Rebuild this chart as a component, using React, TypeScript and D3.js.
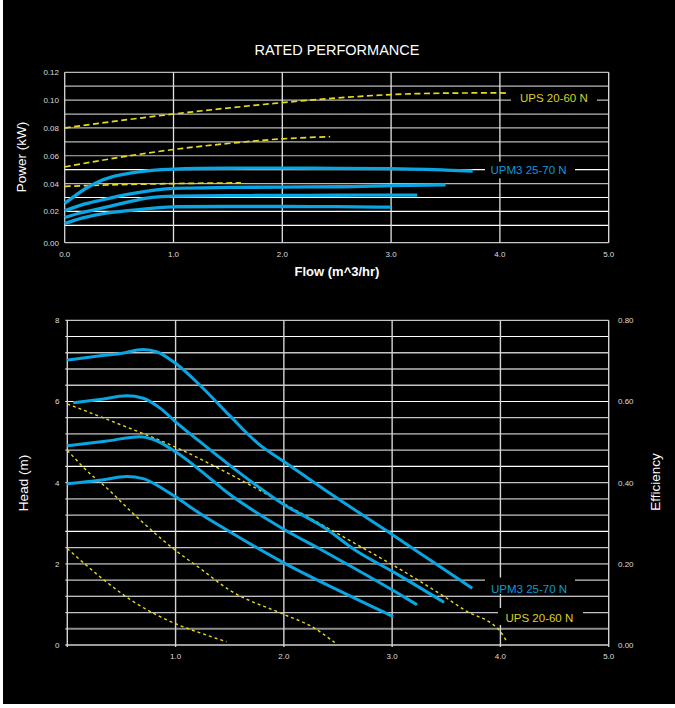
import React from "react";
import * as d3 from "d3";

// ---------- data ----------
const flowTicks = [0, 1, 2, 3, 4, 5];
const flowTickLabels = ["0.0", "1.0", "2.0", "3.0", "4.0", "5.0"];
const powerTicks = [0, 0.02, 0.04, 0.06, 0.08, 0.1, 0.12];
const powerTickLabels = ["0.00", "0.02", "0.04", "0.06", "0.08", "0.10", "0.12"];
const powerGrid = [0.01, 0.02, 0.03, 0.04, 0.05, 0.06, 0.07, 0.08, 0.09, 0.1, 0.11, 0.12];
const headTicks = [0, 2, 4, 6, 8];
const headTickLabels = ["0", "2", "4", "6", "8"];
const effTickLabels = ["0.00", "0.20", "0.40", "0.60", "0.80"];
const headGrid = [0.4, 0.8, 1.2, 1.6, 2.0, 2.4, 2.8, 3.2, 3.6, 4.0, 4.4, 4.8, 5.2, 5.6, 6.0, 6.4, 6.8, 7.2, 7.6, 8.0];

// UPM3 25-70 N power curves [flow m3/h, kW]
const upm3Power1: [number, number][] = [
  [0, 0.0257], [0.1, 0.0315], [0.2, 0.0368], [0.3, 0.041], [0.45, 0.0452], [0.6, 0.0475],
  [0.8, 0.0495], [1.0, 0.0504], [1.5, 0.051], [2.0, 0.0511], [2.5, 0.0509], [3.0, 0.0507],
  [3.5, 0.0497], [3.75, 0.049],
];
const upm3Power2: [number, number][] = [
  [0, 0.0204], [0.15, 0.0245], [0.33, 0.028], [0.63, 0.0329], [1.0, 0.0365], [1.5, 0.0372],
  [2.0, 0.0375], [2.54, 0.0377], [3.0, 0.0385], [3.5, 0.0391],
];
const upm3Power3: [number, number][] = [
  [0, 0.0156], [0.15, 0.019], [0.33, 0.0221], [0.63, 0.0276], [0.8, 0.03], [1.0, 0.031],
  [1.5, 0.0313], [2.0, 0.0315], [2.5, 0.0316], [3.0, 0.0317], [3.24, 0.0317],
];
const upm3Power4: [number, number][] = [
  [0, 0.0113], [0.15, 0.015], [0.33, 0.018], [0.63, 0.0209], [1.0, 0.0233], [1.5, 0.0235],
  [2.0, 0.0235], [2.5, 0.0234], [3.0, 0.023],
];
// UPS 20-60 N power curves
const upsPower1: [number, number][] = [
  [0, 0.08], [0.5, 0.0852], [1.0, 0.09], [1.5, 0.0943], [2.0, 0.0982], [2.5, 0.1015],
  [3.0, 0.104], [3.5, 0.105], [4.0, 0.1052], [4.08, 0.1048],
];
const upsPower2: [number, number][] = [
  [0, 0.052], [0.5, 0.0588], [1.0, 0.0645], [1.5, 0.0688], [2.0, 0.0722], [2.44, 0.0737],
];
const upsPower3: [number, number][] = [
  [0, 0.038], [0.5, 0.0392], [1.0, 0.04], [1.62, 0.0405],
];

// UPM3 25-70 N head curves [flow, m]
const upm3Head1: [number, number][] = [
  [0, 7.02], [0.25, 7.11], [0.49, 7.18], [0.7, 7.28], [0.83, 7.22], [1.0, 6.94], [1.225, 6.4],
  [1.5, 5.65], [1.76, 4.97], [2.0, 4.52], [2.38, 3.82], [3.03, 2.67], [3.74, 1.4],
];
const upm3Head2: [number, number][] = [
  [0.055, 5.97], [0.3, 6.05], [0.55, 6.14], [0.7, 6.08], [0.86, 5.83], [1.0, 5.5], [1.225, 5.01],
  [1.456, 4.52], [1.995, 3.47], [2.38, 2.88], [2.657, 2.34], [3.03, 1.77], [3.48, 1.05],
];
const upm3Head3: [number, number][] = [
  [0, 4.91], [0.35, 5.02], [0.67, 5.13], [0.79, 5.07], [1.0, 4.76], [1.225, 4.31], [1.456, 3.8],
  [1.995, 2.86], [2.35, 2.34], [3.03, 1.31], [3.23, 0.99],
];
const upm3Head4: [number, number][] = [
  [0, 3.97], [0.3, 4.06], [0.55, 4.15], [0.7, 4.1], [0.87, 3.87], [1.0, 3.65], [1.225, 3.24],
  [1.5, 2.79], [1.995, 2.03], [2.5, 1.35], [3.01, 0.7],
];
// UPS 20-60 N head curves
const upsHead1: [number, number][] = [
  [0, 5.94], [0.5, 5.42], [0.995, 4.88], [1.5, 4.21], [1.995, 3.49], [2.5, 2.74], [2.75, 2.36],
  [3.0, 1.98], [3.5, 1.16], [3.67, 0.86], [4.0, 0.33], [4.06, 0.08],
];
const upsHead2: [number, number][] = [
  [0, 4.8], [0.24, 4.15], [0.3, 4.02], [0.64, 3.16], [0.995, 2.34], [1.225, 1.89], [1.5, 1.35],
  [1.995, 0.76], [2.26, 0.45], [2.47, 0.06],
];
const upsHead3: [number, number][] = [
  [0, 2.38], [0.33, 1.62], [0.61, 1.07], [0.995, 0.53], [1.225, 0.3], [1.47, 0.08],
];

const upm3PowerSeries = [upm3Power1, upm3Power2, upm3Power3, upm3Power4];
const upsPowerSeries = [upsPower1, upsPower2, upsPower3];
const upm3HeadSeries = [upm3Head1, upm3Head2, upm3Head3, upm3Head4];
const upsHeadSeries = [upsHead1, upsHead2, upsHead3];

const titleText = "RATED PERFORMANCE";
const upmLabel = "UPM3 25-70 N";
const upsLabel = "UPS 20-60 N";

// ---------- style ----------
const FONT = "'Liberation Sans', Arial, Helvetica, sans-serif";
const BLUE = "#0aa5e3";
const BLUE_TEXT = "#0d9ad8";
const YELLOW = "#e6da1e";
const YELLOW_TEXT = "#dcd020";

export default function App() {
  // top chart scales
  const xTop = d3.scaleLinear().domain([0, 5]).range([64.7, 608.7]);
  const yTop = d3.scaleLinear().domain([0, 0.12]).range([239.2, 72.3]);
  const topAxisY = 242.7;
  // bottom chart scales
  const xBot = d3.scaleLinear().domain([0, 5]).range([67.3, 608.7]);
  const yBot = d3.scaleLinear().domain([0, 8]).range([645, 320.3]);

  const lineTop = d3
    .line<[number, number]>()
    .x((d) => xTop(d[0]))
    .y((d) => yTop(d[1]))
    .curve(d3.curveMonotoneX);
  const lineBot = d3
    .line<[number, number]>()
    .x((d) => xBot(d[0]))
    .y((d) => yBot(d[1]))
    .curve(d3.curveMonotoneX);

  const topGridColor = (v: number) => {
    const k = Math.round(v * 100);
    return k === 1 || k === 2 || k === 3 || k === 5 ? "#ffffff" : "#b8b8b8";
  };
  const botGridStyle = (i: number) => {
    if (i % 4 === 3) return { stroke: "#ffffff", w: 1.1 };
    if (i % 4 === 1) return { stroke: "#8c8c8c", w: 1.8 };
    return { stroke: "#c4c4c4", w: 1.3 };
  };

  return (
    <svg
      width={675}
      height={708}
      style={{ position: "absolute", left: 0, top: 0, display: "block" }}
      fontFamily={FONT}
    >
      <rect x={0} y={0} width={675} height={708} fill="#ffffff" />
      <rect x={3} y={0} width={672} height={704} fill="#000000" />

      {/* title */}
      <text x={337} y={55} textAnchor="middle" fill="#ffffff" fontSize={14.5}>
        {titleText}
      </text>

      {/* ===== TOP CHART ===== */}
      {powerGrid.map((v) => (
        <line
          key={"pg" + v}
          x1={xTop(0)}
          x2={xTop(5)}
          y1={yTop(v)}
          y2={yTop(v)}
          stroke={topGridColor(v)}
          strokeWidth={1.2}
        />
      ))}
      <line x1={xTop(0)} x2={xTop(5)} y1={topAxisY} y2={topAxisY} stroke="#c8c8c8" strokeWidth={1.3} />
      {flowTicks.map((t) => (
        <line
          key={"vt" + t}
          x1={xTop(t)}
          x2={xTop(t)}
          y1={yTop(0.12)}
          y2={topAxisY}
          stroke={t === 0 ? "#d8d8d8" : "#e2e2e2"}
          strokeWidth={1.3}
        />
      ))}
      {powerTicks.map((t, i) => (
        <text
          key={"pt" + t}
          x={59}
          y={(t === 0 ? topAxisY : yTop(t)) + 3}
          textAnchor="end"
          fill="#dddddd"
          fontSize={8}
        >
          {powerTickLabels[i]}
        </text>
      ))}
      {flowTicks.map((t, i) => (
        <text key={"ft" + t} x={xTop(t)} y={257} textAnchor="middle" fill="#dddddd" fontSize={8}>
          {flowTickLabels[i]}
        </text>
      ))}
      <text
        transform={`translate(26,157) rotate(-90)`}
        textAnchor="middle"
        fill="#ffffff"
        fontSize={13.5}
      >
        Power (kW)
      </text>
      <text x={337} y={276} textAnchor="middle" fill="#ffffff" fontSize={13} fontWeight="bold">
        Flow (m^3/hr)
      </text>

      {upsPowerSeries.map((s, i) => (
        <path
          key={"ups-p" + i}
          d={lineTop(s) || ""}
          fill="none"
          stroke={YELLOW}
          strokeWidth={1.7}
          strokeDasharray="6,3.5"
        />
      ))}
      {upm3PowerSeries.map((s, i) => (
        <path
          key={"upm-p" + i}
          d={lineTop(s) || ""}
          fill="none"
          stroke={BLUE}
          strokeWidth={3.3}
        />
      ))}

      {/* top labels */}
      <rect x={511} y={90} width={86} height={18} fill="#000" />
      <text x={520} y={101.8} fill={YELLOW_TEXT} fontSize={11.5}>
        {upsLabel}
      </text>
      <rect x={485} y={161.7} width={90} height={16.6} fill="#000" />
      <text x={490.5} y={174.1} fill={BLUE_TEXT} fontSize={11.5}>
        {upmLabel}
      </text>

      {/* ===== BOTTOM CHART ===== */}
      {headGrid.map((v, i) => {
        const st = botGridStyle(i + 1);
        return (
          <line
            key={"hg" + v}
            x1={xBot(0) - 2}
            x2={xBot(5)}
            y1={yBot(v)}
            y2={yBot(v)}
            stroke={st.stroke}
            strokeWidth={st.w}
          />
        );
      })}
      <line x1={xBot(0) - 2} x2={xBot(5)} y1={yBot(0)} y2={yBot(0)} stroke="#d0d0d0" strokeWidth={1.3} />
      {flowTicks.map((t) => (
        <line
          key={"bvt" + t}
          x1={xBot(t)}
          x2={xBot(t)}
          y1={yBot(8)}
          y2={yBot(0) + 2}
          stroke="#d4d4d4"
          strokeWidth={1.4}
        />
      ))}
      {headTicks.map((t, i) => (
        <text key={"ht" + t} x={59.5} y={yBot(t) + 3} textAnchor="end" fill="#dddddd" fontSize={8}>
          {headTickLabels[i]}
        </text>
      ))}
      {headTicks.map((t, i) => (
        <text key={"et" + t} x={618} y={yBot(t) + 3} textAnchor="start" fill="#dddddd" fontSize={8}>
          {effTickLabels[i]}
        </text>
      ))}
      {flowTicks
        .filter((t) => t > 0)
        .map((t) => (
          <text key={"bft" + t} x={xBot(t)} y={659} textAnchor="middle" fill="#dddddd" fontSize={8}>
            {flowTickLabels[flowTicks.indexOf(t)]}
          </text>
        ))}
      <text
        transform={`translate(28,483) rotate(-90)`}
        textAnchor="middle"
        fill="#ffffff"
        fontSize={13.5}
      >
        Head (m)
      </text>
      <text
        transform={`translate(660,482) rotate(-90)`}
        textAnchor="middle"
        fill="#ffffff"
        fontSize={13.5}
      >
        Efficiency
      </text>

      {upsHeadSeries.map((s, i) => (
        <path
          key={"ups-h" + i}
          d={lineBot(s) || ""}
          fill="none"
          stroke={YELLOW}
          strokeWidth={1.4}
          strokeDasharray="3,3"
        />
      ))}
      {upm3HeadSeries.map((s, i) => (
        <path
          key={"upm-h" + i}
          d={lineBot(s) || ""}
          fill="none"
          stroke={BLUE}
          strokeWidth={3}
        />
      ))}

      {/* bottom labels */}
      <rect x={485} y={577.5} width={90} height={16.5} fill="#000" />
      <text x={491} y={593} fill={BLUE_TEXT} fontSize={11.5}>
        {upmLabel}
      </text>
      <rect x={498} y={608} width={85} height={17} fill="#000" />
      <text x={505.5} y={622.3} fill={YELLOW_TEXT} fontSize={11.5}>
        {upsLabel}
      </text>
    </svg>
  );
}
